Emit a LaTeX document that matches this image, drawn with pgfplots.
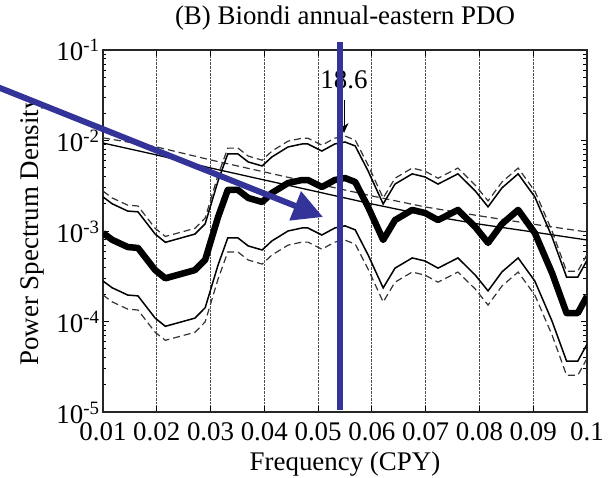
\documentclass[border=0pt]{standalone}
\usepackage{fontspec}
\setmainfont{Liberation Serif}
\usepackage{pgfplots}
\usepackage{pgfplotstable}
\pgfplotsset{compat=1.18}
\usetikzlibrary{arrows.meta}
\definecolor{annblue}{RGB}{51,51,153}
\newcommand\F{\fontsize{27}{30}\selectfont}

\pgfplotstableread{
x thick up lo upd lod
0.0100 9.50e-4 2.38e-3 2.80e-4 2.76e-3 1.96e-4
0.0117 8.00e-4 2.00e-3 2.36e-4 2.32e-3 1.65e-4
0.0146 6.65e-4 1.66e-3 1.96e-4 1.93e-3 1.37e-4
0.0165 6.50e-4 1.63e-3 1.92e-4 1.89e-3 1.34e-4
0.0197 3.70e-4 9.25e-4 1.09e-4 1.07e-3 7.6e-5
0.0216 3.00e-4 7.50e-4 8.85e-5 8.70e-4 6.2e-5
0.0271 3.70e-4 9.25e-4 1.09e-4 1.07e-3 7.6e-5
0.0290 4.80e-4 1.20e-3 1.42e-4 1.39e-3 9.9e-5
0.0314 1.43e-3 3.58e-3 4.22e-4 4.15e-3 2.95e-4
0.0332 2.84e-3 7.10e-3 8.38e-4 8.24e-3 5.85e-4
0.0351 2.84e-3 7.10e-3 8.38e-4 8.24e-3 5.85e-4
0.0370 2.32e-3 5.80e-3 6.84e-4 6.73e-3 4.78e-4
0.0396 2.09e-3 5.23e-3 6.17e-4 6.06e-3 4.31e-4
0.0414 2.63e-3 6.58e-3 7.76e-4 7.63e-3 5.42e-4
0.0444 3.39e-3 8.48e-3 1.00e-3 9.83e-3 6.98e-4
0.0470 3.66e-3 9.15e-3 1.08e-3 1.06e-2 7.54e-4
0.0481 3.66e-3 9.15e-3 1.08e-3 1.06e-2 7.54e-4
0.0507 3.06e-3 7.65e-3 9.03e-4 8.87e-3 6.30e-4
0.0531 3.66e-3 9.15e-3 1.08e-3 1.06e-2 7.54e-4
0.0550 3.85e-3 9.63e-3 1.14e-3 1.12e-2 7.93e-4
0.0569 3.48e-3 8.70e-3 1.03e-3 1.01e-2 7.17e-4
0.0593 1.84e-3 4.60e-3 5.43e-4 5.34e-3 3.79e-4
0.0621 7.96e-4 1.99e-3 2.35e-4 2.31e-3 1.64e-4
0.0643 1.32e-3 3.30e-3 3.89e-4 3.83e-3 2.72e-4
0.0675 1.71e-3 4.28e-3 5.04e-4 4.96e-3 3.52e-4
0.0699 1.58e-3 3.95e-3 4.66e-4 4.58e-3 3.25e-4
0.0723 1.32e-3 3.30e-3 3.89e-4 3.83e-3 2.72e-4
0.0760 1.71e-3 4.28e-3 5.04e-4 4.96e-3 3.52e-4
0.0792 1.11e-3 2.78e-3 3.27e-4 3.22e-3 2.29e-4
0.0816 7.40e-4 1.85e-3 2.18e-4 2.15e-3 1.52e-4
0.0842 1.20e-3 3.00e-3 3.54e-4 3.48e-3 2.47e-4
0.0872 1.71e-3 4.28e-3 5.04e-4 4.96e-3 3.52e-4
0.0903 9.50e-4 2.38e-3 2.80e-4 2.76e-3 1.96e-4
0.0935 3.44e-4 8.60e-4 1.01e-4 1.00e-3 7.1e-5
0.0962 1.24e-4 3.10e-4 3.66e-5 3.60e-4 2.55e-5
0.0983 1.24e-4 3.10e-4 3.66e-5 3.60e-4 2.55e-5
0.1000 1.90e-4 4.75e-4 5.60e-5 5.50e-4 3.90e-5
}\spec

\pgfplotstableread{
x solid dashed
0.01 9.38e-3 1.07e-2
0.02 6.92e-3 8.48e-3
0.03 4.97e-3 6.10e-3
0.04 3.66e-3 4.49e-3
0.05 2.70e-3 3.30e-3
0.06 1.99e-3 2.44e-3
0.07 1.50e-3 1.84e-3
0.08 1.19e-3 1.47e-3
0.09 9.75e-4 1.19e-3
0.10 7.96e-4 9.75e-4
}\rednoise

\begin{document}
\begin{tikzpicture}
\useasboundingbox (-103bp,-66bp) rectangle (506bp,412bp);
\begin{axis}[
  at={(0,0)}, anchor=south west,
  scale only axis, width=484bp, height=362bp,
  xmin=0.01, xmax=0.1, ymode=log, ymin=1e-5, ymax=1e-1,
  xtick={0.01,0.02,0.03,0.04,0.05,0.06,0.07,0.08,0.09,0.1},
  xticklabels={0.01,0.02,0.03,0.04,0.05,0.06,0.07,0.08,0.09,0.1},
  ytick={1e-5,1e-4,1e-3,1e-2,1e-1},
  yticklabels={10\textsuperscript{-5},10\textsuperscript{-4},10\textsuperscript{-3},10\textsuperscript{-2},10\textsuperscript{-1}},
  minor ytick={2e-5,3e-5,4e-5,5e-5,6e-5,7e-5,8e-5,9e-5,
               2e-4,3e-4,4e-4,5e-4,6e-4,7e-4,8e-4,9e-4,
               2e-3,3e-3,4e-3,5e-3,6e-3,7e-3,8e-3,9e-3,
               2e-2,3e-2,4e-2,5e-2,6e-2,7e-2,8e-2,9e-2},
  tick align=inside,
  major tick length=6bp, minor tick length=3.5bp,
  every tick/.style={black, line width=0.9bp},
  axis line style={black!85, line width=1.6bp},
  xmajorgrids, major grid style={black!70, densely dotted, line width=0.9bp},
  tick label style={font=\F},
  xticklabel style={anchor=base, yshift=-28bp},
  yticklabel style={anchor=base east, yshift=-11bp},
  xlabel={Frequency (CPY)},
  ylabel={Power Spectrum Density},
  title={(B) Biondi annual-eastern PDO},
  xlabel style={at={(axis description cs:0.5,0)}, anchor=base, yshift=-58bp, font=\F},
  ylabel style={at={(axis description cs:-0.1343,0.5)}, anchor=base, font=\F},
  title style={at={(axis description cs:0.5,1)}, anchor=base, yshift=20bp, font=\F},
]
\addplot[black!80, line width=1.2bp, dash pattern=on 7bp off 4bp] table[x=x,y=dashed] {\rednoise};
\addplot[black, line width=1.3bp] table[x=x,y=solid] {\rednoise};
\addplot[black!80, line width=1.2bp, dash pattern=on 7bp off 4bp] table[x=x,y=upd] {\spec};
\addplot[black!80, line width=1.2bp, dash pattern=on 7bp off 4bp] table[x=x,y=lod] {\spec};
\addplot[black, line width=1.5bp] table[x=x,y=up] {\spec};
\addplot[black, line width=1.5bp] table[x=x,y=lo] {\spec};
\addplot[black, line width=6.5bp, line join=round] table[x=x,y=thick] {\spec};
\end{axis}
\draw[black, line width=1bp, -{Stealth[length=10bp,width=9bp]}] (241bp,312bp) -- (241bp,279bp);
\node[anchor=base, font=\F, inner sep=0pt] at (241bp,323bp) {18.6};
\draw[annblue, line width=6.5bp] (237bp,370bp) -- (237bp,2bp);
\draw[annblue, line width=6bp, -{Triangle[length=30bp,width=30bp]}] (-123bp,332bp) -- (220bp,195bp);
\end{tikzpicture}
\end{document}
